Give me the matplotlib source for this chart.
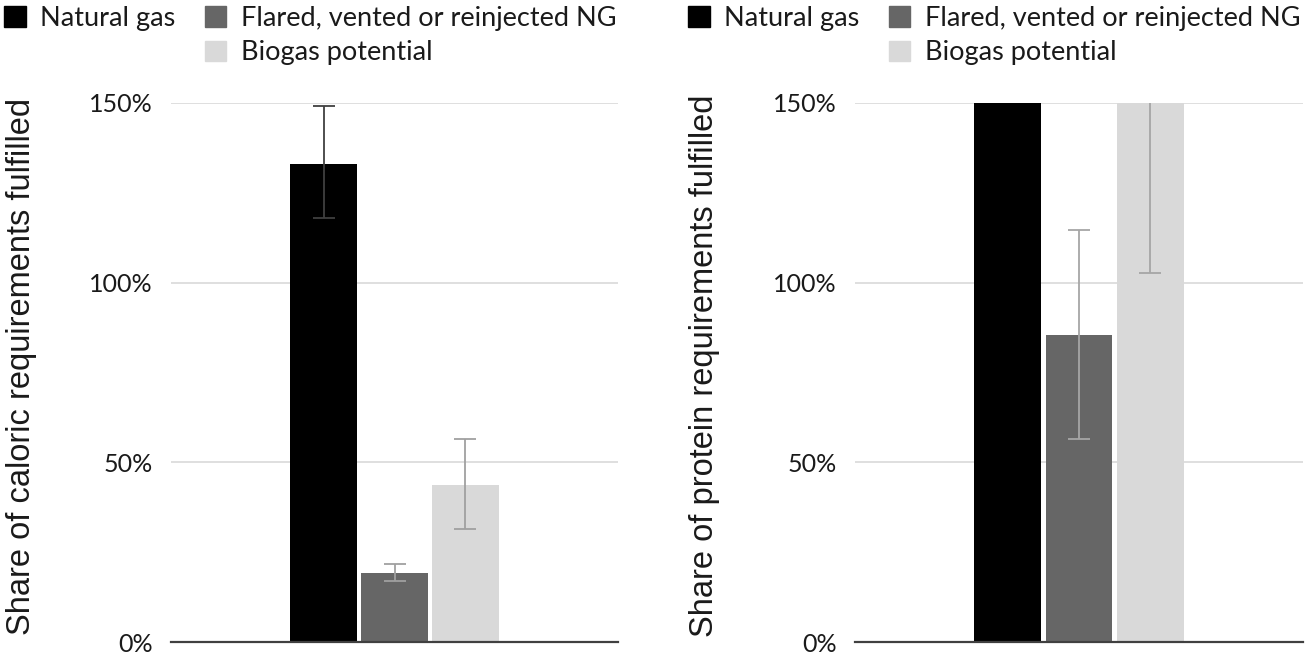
import matplotlib
matplotlib.use("Agg")
import matplotlib.pyplot as plt
from matplotlib.patches import Rectangle
from matplotlib.ticker import FuncFormatter

# ---------------- data ----------------
categories = ["Natural gas", "Flared, vented or reinjected NG", "Biogas potential"]
colors = ["#000000", "#666666", "#d9d9d9"]

caloric_values = [133.0, 19.2, 43.6]
caloric_err_low = [117.9, 17.1, 31.4]
caloric_err_high = [149.2, 21.7, 56.5]
caloric_err_colors = ["#404040", "#a0a0a0", "#a0a0a0"]

protein_values = [590.0, 85.3, 194.0]
protein_err_low = [520.0, 56.6, 102.6]
protein_err_high = [660.0, 114.6, 285.0]
protein_err_colors = ["#a6a6a6", "#a6a6a6", "#a6a6a6"]

yticks = [0, 50, 100, 150]
ylabels = ["Share of caloric requirements fulfilled",
           "Share of protein requirements fulfilled"]

# ---------------- figure ----------------
W, H = 1305, 654
fig = plt.figure(figsize=(W / 100, H / 100), dpi=100)

tick_font = "Lato"
label_font = ["Liberation Sans", "DejaVu Sans"]

axes_px = [(171, 618), (855, 1303)]
ybot_px, ytop_px = 642, 103
legend_x_px = [4, 688]
ylabel_x_px = [22, 705]

panels = [
    (caloric_values, caloric_err_low, caloric_err_high, caloric_err_colors),
    (protein_values, protein_err_low, protein_err_high, protein_err_colors),
]

for i, (vals, lo, hi, ecols) in enumerate(panels):
    x0, x1 = axes_px[i]
    ax = fig.add_axes([x0 / W, 1 - ybot_px / H, (x1 - x0) / W, (ybot_px - ytop_px) / H])
    xs = [-1, 0, 1]
    ax.bar(xs, vals, width=0.94, color=colors, zorder=2)
    for x, v, l, h, ec in zip(xs, vals, lo, hi, ecols):
        ax.errorbar([x], [v], yerr=[[v - l], [h - v]], fmt="none", ecolor=ec,
                    elinewidth=1.3, capsize=8, capthick=1.3, zorder=3)
    ax.set_xlim(-3.15, 3.15)
    ax.set_ylim(0, 150)
    ax.set_yticks(yticks)
    ax.yaxis.set_major_formatter(FuncFormatter(lambda v, p: f"{v:.0f}%"))
    ax.set_xticks([])
    ax.grid(axis="y", color="#d9d9d9", linewidth=1.2, zorder=0)
    ax.set_axisbelow(True)
    for s in ["top", "left", "right"]:
        ax.spines[s].set_visible(False)
    ax.spines["bottom"].set_color("#404040")
    ax.spines["bottom"].set_linewidth(1.6)
    ax.spines["bottom"].set_zorder(4)
    ax.tick_params(axis="y", length=0, pad=13, labelsize=18, labelcolor="#1a1a1a")
    for t in ax.get_yticklabels():
        t.set_fontfamily(tick_font)

    fig.text(ylabel_x_px[i] / W, 1 - 366 / H, ylabels[i],
             rotation=90, ha="center", va="center", fontsize=23.5,
             family=label_font, color="#1a1a1a")

    handles = [Rectangle((0, 0), 1, 1, color=colors[0]),
               Rectangle((0, 0), 1, 1, fill=False, edgecolor="none"),
               Rectangle((0, 0), 1, 1, color=colors[1]),
               Rectangle((0, 0), 1, 1, color=colors[2])]
    labels = [categories[0], " ", categories[1], categories[2]]
    leg = fig.legend(handles, labels, ncol=2, loc="upper left",
                     bbox_to_anchor=(legend_x_px[i] / W, 1 - 6 / H),
                     frameon=False, prop={"family": tick_font, "size": 19.5},
                     handlelength=0.8, handleheight=0.8, handletextpad=0.52,
                     columnspacing=1.1, labelspacing=0.35, borderpad=0.0,
                     borderaxespad=0.0)
    for t in leg.get_texts():
        t.set_color("#1a1a1a")

fig.savefig("out.png", dpi=100)
